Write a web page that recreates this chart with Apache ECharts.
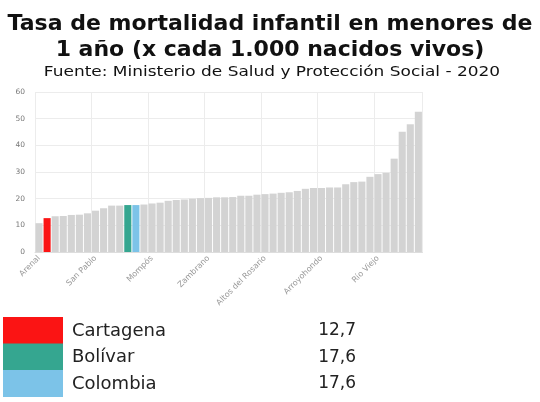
<!DOCTYPE html>
<html>
<head>
<meta charset="utf-8">
<script src="https://cdn.jsdelivr.net/npm/echarts@6/dist/echarts.min.js"></script>
<style>html,body{margin:0;padding:0;background:#fff;}#c{width:540px;height:402px;}</style>
</head>
<body>
<div id="c"></div>
<script>
var categories = ['Arenal','Cartagena','m3','m4','m5','m6','m7','San Pablo','m9','m10','m11','Bolívar','Colombia','m14','Mompós','m16','m17','m18','m19','m20','m21','Zambrano','m23','m24','m25','m26','m27','m28','Altos del Rosario','m30','m31','m32','m33','m34','m35','Arroyohondo','m37','m38','m39','m40','m41','m42','Río Viejo','m44','m45','m46','m47','m48'];
var values = [10.8,12.7,13.4,13.5,13.9,14.0,14.5,15.5,16.4,17.4,17.4,17.6,17.6,17.8,18.2,18.5,19.2,19.5,19.7,20.0,20.2,20.3,20.5,20.5,20.6,21.1,21.1,21.5,21.7,21.9,22.2,22.4,22.9,23.7,24.0,24.0,24.2,24.2,25.4,26.2,26.4,28.2,29.2,29.7,35.0,45.1,47.9,52.6];
var highlightNames = ['Cartagena','Bolívar','Colombia'];
var highlightColors = ['#fb1414','#35a690','#7cc3e8'];
var legendValues = ['12,7','17,6','17,6'];
var yTicks = [0,10,20,30,40,50,60];
var subtitle = 'Fuente: Ministerio de Salud y Protección Social - 2020';

var FONT = '"DejaVu Sans", sans-serif';
var chart = echarts.init(document.getElementById('c'));
var barData = values.map(function(v,i){
  var h = highlightNames.indexOf(categories[i]);
  return {value:v, itemStyle:{color: h>=0 ? highlightColors[h] : '#d3d3d3'}};
});
var graphics = [
  {type:'text', x:272, y:72.5, scaleX:1.17, style:{text:subtitle, font:'14.5px ' + FONT, fill:'#111', textAlign:'center', textVerticalAlign:'middle'}}
];
highlightNames.forEach(function(n,i){
  var y = 317 + i*26.5;
  graphics.push({type:'rect', left:3, top:y, shape:{width:60,height:27}, style:{fill:highlightColors[i]}});
  graphics.push({type:'text', x:72, y:y+14, style:{text:n, font:'18px ' + FONT, fill:'#222', textVerticalAlign:'middle'}});
  graphics.push({type:'text', x:356, y:y+14, style:{text:legendValues[i], font:'17px ' + FONT, fill:'#222', textAlign:'right', textVerticalAlign:'middle'}});
});
chart.setOption({
  animation:false,
  title:[
    {text:'Tasa de mortalidad infantil en menores de\n1 año (x cada 1.000 nacidos vivos)', left:'center', top:6,
     textStyle:{fontFamily:FONT, fontSize:22, fontWeight:'bold', color:'#111', lineHeight:26}}
  ],
  grid:{left:35, right:117.6, top:92, bottom:150},
  xAxis:{type:'category', data:categories,
    axisLine:{lineStyle:{color:'#ddd'}},
    axisTick:{alignWithLabel:true, interval:6, length:3, lineStyle:{color:'#ddd'}},
    axisLabel:{interval:6, rotate:45, fontSize:8, color:'#999', fontFamily:FONT, margin:5},
    splitLine:{show:true, interval:6, lineStyle:{color:'#ececec'}}
  },
  yAxis:{type:'value', min:yTicks[0], max:yTicks[yTicks.length-1], interval:10,
    axisLabel:{fontSize:7.5, color:'#777', fontFamily:FONT, margin:10},
    axisLine:{show:false}, axisTick:{show:false},
    splitLine:{lineStyle:{color:'#ececec'}}
  },
  series:[{type:'bar', data:barData, barCategoryGap:'12%'}],
  graphic:graphics
});
</script>
</body>
</html>
